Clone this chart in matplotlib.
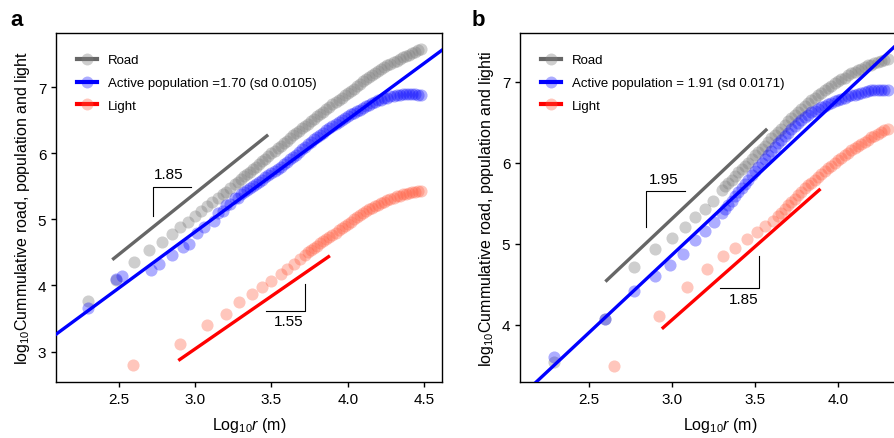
import matplotlib
matplotlib.use("Agg")
import matplotlib.pyplot as plt
from matplotlib.lines import Line2D

plt.rcParams['font.family'] = ['Liberation Sans', 'DejaVu Sans']
plt.rcParams['mathtext.fontset'] = 'custom'
plt.rcParams['mathtext.rm'] = 'Liberation Sans'
plt.rcParams['mathtext.it'] = 'Liberation Sans:italic'

# ---- panel a data (log10 r, log10 cumulative value) ----
road_a_x = [2.30, 2.48, 2.60, 2.70, 2.78, 2.85, 2.90, 2.95, 3.00, 3.04, 3.08, 3.11, 3.15, 3.18, 3.20, 3.23, 3.26, 3.28, 3.30,
            3.32, 3.34, 3.36, 3.38, 3.40, 3.42, 3.44, 3.46, 3.48, 3.50, 3.52, 3.54, 3.56, 3.58, 3.60, 3.62, 3.64, 3.66, 3.68, 3.70,
            3.72, 3.74, 3.76, 3.78, 3.80, 3.82, 3.84, 3.86, 3.88, 3.90, 3.92, 3.94, 3.96, 3.98, 4.00, 4.02, 4.04, 4.06, 4.08, 4.10,
            4.12, 4.14, 4.16, 4.18, 4.20, 4.22, 4.24, 4.26, 4.28, 4.30, 4.32, 4.34, 4.36, 4.38, 4.40, 4.42, 4.44, 4.46, 4.48]
road_a_y = [3.76, 4.08, 4.36, 4.54, 4.66, 4.78, 4.89, 4.96, 5.05, 5.12, 5.20, 5.26, 5.33, 5.38, 5.42, 5.48, 5.53, 5.57, 5.61,
            5.65, 5.69, 5.72, 5.76, 5.80, 5.84, 5.88, 5.92, 5.96, 6.00, 6.04, 6.08, 6.11, 6.15, 6.19, 6.23, 6.27, 6.30, 6.34, 6.38,
            6.42, 6.45, 6.49, 6.52, 6.56, 6.60, 6.63, 6.67, 6.70, 6.74, 6.77, 6.81, 6.84, 6.88, 6.91, 6.95, 6.98, 7.02, 7.05, 7.09,
            7.12, 7.15, 7.19, 7.22, 7.25, 7.28, 7.30, 7.33, 7.35, 7.38, 7.40, 7.42, 7.45, 7.47, 7.49, 7.51, 7.53, 7.56, 7.58]

pop_a_x = [2.30, 2.48, 2.52, 2.71, 2.76, 2.85, 2.92, 2.96, 3.01, 3.06, 3.12, 3.15, 3.18, 3.20, 3.23, 3.26, 3.28, 3.30,
           3.32, 3.34, 3.36, 3.38, 3.40, 3.42, 3.44, 3.46, 3.48, 3.50, 3.52, 3.54, 3.56, 3.58, 3.60, 3.62, 3.64, 3.66, 3.68, 3.70,
           3.72, 3.74, 3.76, 3.78, 3.80, 3.82, 3.84, 3.86, 3.88, 3.90, 3.92, 3.94, 3.96, 3.98, 4.00, 4.02, 4.04, 4.06, 4.08, 4.10,
           4.12, 4.14, 4.16, 4.18, 4.20, 4.22, 4.24, 4.26, 4.28, 4.30, 4.32, 4.34, 4.36, 4.38, 4.40, 4.42, 4.44, 4.46, 4.48]
pop_a_y = [3.66, 4.10, 4.15, 4.24, 4.33, 4.46, 4.58, 4.63, 4.80, 4.88, 4.98, 5.10, 5.12, 5.22, 5.24, 5.32, 5.33, 5.38,
           5.41, 5.44, 5.48, 5.51, 5.54, 5.57, 5.60, 5.64, 5.67, 5.70, 5.73, 5.77, 5.80, 5.84, 5.87, 5.91, 5.95, 5.98, 6.02, 6.06,
           6.10, 6.14, 6.17, 6.21, 6.25, 6.28, 6.31, 6.35, 6.38, 6.41, 6.44, 6.47, 6.50, 6.53, 6.56, 6.59, 6.61, 6.64, 6.66, 6.69,
           6.71, 6.73, 6.76, 6.78, 6.80, 6.81, 6.83, 6.84, 6.86, 6.87, 6.88, 6.88, 6.89, 6.89, 6.89, 6.89, 6.89, 6.88, 6.88]

light_a_x = [2.59, 2.90, 3.08, 3.20, 3.29, 3.37, 3.44, 3.50, 3.56, 3.60, 3.65, 3.69,
             3.72, 3.74, 3.76, 3.78, 3.80, 3.82, 3.84, 3.86, 3.88, 3.90, 3.92, 3.94, 3.96, 3.98, 4.00, 4.02, 4.04, 4.06, 4.08, 4.10,
             4.12, 4.14, 4.16, 4.18, 4.20, 4.22, 4.24, 4.26, 4.28, 4.30, 4.32, 4.34, 4.36, 4.38, 4.40, 4.42, 4.44, 4.46, 4.48]
light_a_y = [2.79, 3.12, 3.40, 3.57, 3.75, 3.87, 3.97, 4.07, 4.18, 4.25, 4.33, 4.40,
             4.46, 4.50, 4.53, 4.57, 4.60, 4.64, 4.67, 4.70, 4.74, 4.77, 4.80, 4.84, 4.87, 4.90, 4.93, 4.96, 5.00, 5.03, 5.06, 5.09,
             5.12, 5.15, 5.17, 5.20, 5.22, 5.25, 5.27, 5.29, 5.31, 5.33, 5.35, 5.36, 5.38, 5.39, 5.40, 5.41, 5.42, 5.43, 5.43]

# ---- panel b data ----
road_b_x = [2.29, 2.60, 2.77, 2.90, 3.00, 3.08, 3.14, 3.20, 3.25, 3.30,
            3.32, 3.34, 3.36, 3.38, 3.40, 3.42, 3.44, 3.46, 3.48, 3.50, 3.52, 3.54, 3.56, 3.58, 3.60, 3.62, 3.64, 3.66, 3.68, 3.70,
            3.72, 3.74, 3.76, 3.78, 3.80, 3.82, 3.84, 3.86, 3.88, 3.90, 3.92, 3.94, 3.96, 3.98, 4.00, 4.02, 4.04, 4.06, 4.08, 4.10,
            4.12, 4.14, 4.16, 4.18, 4.20, 4.22, 4.24, 4.26, 4.28, 4.30]
road_b_y = [3.54, 4.07, 4.71, 4.93, 5.07, 5.21, 5.33, 5.43, 5.53, 5.66,
            5.71, 5.75, 5.79, 5.84, 5.88, 5.92, 5.96, 6.00, 6.05, 6.09, 6.13, 6.17, 6.21, 6.26, 6.30, 6.34, 6.38, 6.42, 6.47, 6.51,
            6.55, 6.59, 6.63, 6.66, 6.70, 6.74, 6.77, 6.80, 6.83, 6.86, 6.89, 6.92, 6.95, 6.98, 7.01, 7.03, 7.05, 7.08, 7.10, 7.12,
            7.14, 7.16, 7.18, 7.20, 7.21, 7.23, 7.24, 7.25, 7.27, 7.28]

pop_b_x = [2.29, 2.60, 2.77, 2.90, 2.99, 3.07, 3.14, 3.20, 3.255, 3.30,
           3.32, 3.34, 3.36, 3.38, 3.40, 3.42, 3.44, 3.46, 3.48, 3.50, 3.52, 3.54, 3.56, 3.58, 3.60, 3.62, 3.64, 3.66, 3.68, 3.70,
           3.72, 3.74, 3.76, 3.78, 3.80, 3.82, 3.84, 3.86, 3.88, 3.90, 3.92, 3.94, 3.96, 3.98, 4.00, 4.02, 4.04, 4.06, 4.08, 4.10,
           4.12, 4.14, 4.16, 4.18, 4.20, 4.22, 4.24, 4.26, 4.28, 4.30]
pop_b_y = [3.60, 4.07, 4.41, 4.60, 4.74, 4.87, 5.04, 5.15, 5.26, 5.38,
           5.43, 5.48, 5.53, 5.59, 5.64, 5.69, 5.74, 5.79, 5.85, 5.90, 5.95, 6.00, 6.04, 6.09, 6.14, 6.19, 6.24, 6.28, 6.33, 6.37,
           6.41, 6.45, 6.49, 6.53, 6.56, 6.59, 6.62, 6.64, 6.66, 6.68, 6.70, 6.72, 6.74, 6.76, 6.77, 6.79, 6.80, 6.82, 6.83, 6.84,
           6.85, 6.86, 6.87, 6.88, 6.89, 6.89, 6.90, 6.90, 6.90, 6.90]

light_b_x = [2.65, 2.92, 3.09, 3.21, 3.31, 3.38, 3.45, 3.51, 3.56, 3.61,
             3.64, 3.66, 3.68, 3.70, 3.72, 3.74, 3.76, 3.78, 3.80, 3.82, 3.84, 3.86, 3.88, 3.90, 3.92, 3.94, 3.96, 3.98, 4.00,
             4.02, 4.04, 4.06, 4.08, 4.10, 4.12, 4.14, 4.16, 4.18, 4.20, 4.22, 4.24, 4.26, 4.28, 4.30]
light_b_y = [3.49, 4.11, 4.46, 4.68, 4.84, 4.94, 5.05, 5.14, 5.22, 5.28,
             5.34, 5.38, 5.43, 5.47, 5.51, 5.55, 5.60, 5.64, 5.68, 5.72, 5.75, 5.79, 5.82, 5.86, 5.89, 5.93, 5.96, 6.00, 6.03,
             6.06, 6.09, 6.12, 6.15, 6.18, 6.21, 6.23, 6.26, 6.28, 6.31, 6.33, 6.35, 6.38, 6.40, 6.42]

# fitted lines (endpoints) and slope brackets
fit_a = {"road": ([2.456, 3.478], [4.39, 6.28]),
         "pop": ([2.0, 4.7], [3.114, 7.70]),
         "light": ([2.889, 3.883], [2.865, 4.45])}
fit_b = {"road": ([2.60, 3.574], [4.53, 6.416]),
         "pop": ([2.0, 4.6], [2.937, 7.93]),
         "light": ([2.94, 3.895], [3.947, 5.675])}
brackets_a = [("1.85", [2.72, 2.72, 2.975], [5.056, 5.485, 5.485], (2.823, 5.69)),
              ("1.55", [3.463, 3.719, 3.719], [3.621, 3.621, 4.024], (3.616, 3.47))]
brackets_b = [("1.95", [2.847, 2.847, 3.082], [5.202, 5.647, 5.647], (2.952, 5.80)),
              ("1.85", [3.289, 3.524, 3.524], [4.453, 4.453, 4.852], (3.43, 4.317))]

legend_a = ["Road", "Active population =1.70 (sd 0.0105)", "Light"]
legend_b = ["Road", "Active population = 1.91 (sd 0.0171)", "Light"]

PT_COLORS = {"road": ("#808080", 0.38), "pop": ("#0000ff", 0.32), "light": ("#ff5a3c", 0.34)}
LINE_COLORS = {"road": "#666666", "pop": "#0000ff", "light": "#ff0000"}


def draw_panel(ax, series, fits, brackets, labels, xlim, ylim, xticks, yticks, ylabel):
    for key, (xs, ys) in series.items():
        c, a = PT_COLORS[key]
        ax.scatter(xs, ys, s=76, color=c, alpha=a, linewidths=0, zorder=2)
    for key, (xs, ys) in fits.items():
        ax.plot(xs, ys, color=LINE_COLORS[key], lw=2.4, solid_capstyle='butt', zorder=3)
    for txt, bx, by, (tx, ty) in brackets:
        ax.plot(bx, by, color="black", lw=0.8, zorder=3)
        ax.text(tx, ty, txt, fontsize=11, ha="center", va="center")

    handles = []
    for key in ["road", "pop", "light"]:
        c, a = PT_COLORS[key]
        handles.append(Line2D([], [], color=LINE_COLORS[key], lw=3,
                              marker="o", markersize=8.6, markeredgewidth=0,
                              markerfacecolor=matplotlib.colors.to_rgba(c, a)))
    ax.legend(handles, labels, loc="upper left", frameon=False, fontsize=9.5,
              handlelength=1.5, handletextpad=0.85, labelspacing=0.8,
              borderaxespad=0.9, borderpad=0.7)

    ax.set_xlim(*xlim)
    ax.set_ylim(*ylim)
    ax.set_xticks(xticks)
    ax.set_xticklabels(["%.1f" % t for t in xticks])
    ax.set_yticks(yticks)
    ax.tick_params(direction="out", length=3.5, width=1, labelsize=11)
    for sp in ax.spines.values():
        sp.set_linewidth(1.0)
    ax.set_xlabel("Log$_{10}$$\\mathit{r}$ (m)", fontsize=11.5, labelpad=7)
    ax.set_ylabel(ylabel, fontsize=11.5, labelpad=4)


fig = plt.figure(figsize=(8.94, 4.39), dpi=100)
ax_a = fig.add_axes([56 / 894, 56 / 439, 386 / 894, 349 / 439])
ax_b = fig.add_axes([520 / 894, 56 / 439, 401 / 894, 349 / 439])

draw_panel(ax_a,
           {"road": (road_a_x, road_a_y), "pop": (pop_a_x, pop_a_y), "light": (light_a_x, light_a_y)},
           fit_a, brackets_a, legend_a, (2.087, 4.618), (2.54, 7.82),
           [2.5, 3.0, 3.5, 4.0, 4.5], [3, 4, 5, 6, 7],
           "log$_{10}$Cummulative road, population and light")
draw_panel(ax_b,
           {"road": (road_b_x, road_b_y), "pop": (pop_b_x, pop_b_y), "light": (light_b_x, light_b_y)},
           fit_b, brackets_b, legend_b, (2.086, 4.5), (3.29, 7.60),
           [2.5, 3.0, 3.5, 4.0], [4, 5, 6, 7],
           "log$_{10}$Cummulative road, population and lighti")

fig.text(10 / 894, 1 - 26 / 439, "a", fontsize=16, fontweight="bold")
fig.text(472 / 894, 1 - 26 / 439, "b", fontsize=16, fontweight="bold")

fig.savefig("out.png", dpi=100)
